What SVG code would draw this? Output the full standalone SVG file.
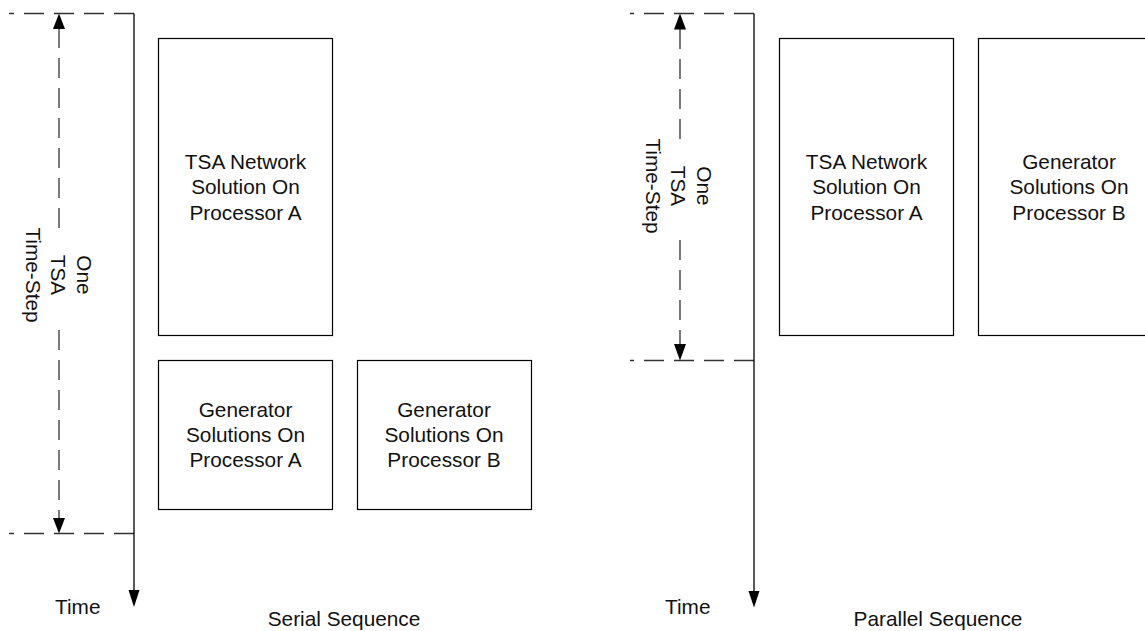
<svg xmlns="http://www.w3.org/2000/svg" width="1145" height="631" viewBox="0 0 1145 631">
  <defs>
    <style>
      text { font-family: "Liberation Sans", Arial, sans-serif; font-size: 20.8px; fill: #111; }
      .c { text-anchor: middle; }
      .box { fill: #fff; stroke: #000; stroke-width: 1.2; }
      .axis { fill: none; stroke: #000; stroke-width: 1.3; }
      .dash { fill: none; stroke: #333; stroke-width: 1.3; stroke-dasharray: 20 10; }
      .head { fill: #000; stroke: none; }
    </style>
  </defs>
  <rect width="1145" height="631" fill="#fff"/>

  <!-- Serial sequence: time axis and one time-step span -->
  <g id="serial-axis">
    <path class="dash" d="M134 13.5 H9"/>
    <path class="dash" d="M134 533.5 H9"/>
    <path class="axis" d="M134 13.5 V591"/>
    <path class="head" d="M128.5 590 L139.5 590 L134 607 Z"/>
    <path class="dash" d="M59 28 V228"/>
    <path class="dash" d="M59 330 V518"/>
    <path class="head" d="M59 13.5 L53 29 L65 29 Z"/>
    <path class="head" d="M59 533.5 L53 518 L65 518 Z"/>
    <text class="c" transform="translate(58.5 275) rotate(90)"><tspan x="0" y="-18">One</tspan><tspan x="0" y="7.5">TSA</tspan><tspan x="0" y="33">Time-Step</tspan></text>
    <text x="55" y="614">Time</text>
    <text class="c" x="344" y="626">Serial Sequence</text>
  </g>

  <g id="serial-network-a">
    <rect class="box" x="158.5" y="38.5" width="174" height="297"/>
    <text class="c" x="245.5" y="168.5">TSA Network</text>
    <text class="c" x="245.5" y="194">Solution On</text>
    <text class="c" x="245.5" y="219.5">Processor A</text>
  </g>

  <g id="serial-generator-a">
    <rect class="box" x="158.5" y="360.5" width="174" height="149"/>
    <text class="c" x="245.5" y="417">Generator</text>
    <text class="c" x="245.5" y="442">Solutions On</text>
    <text class="c" x="245.5" y="467">Processor A</text>
  </g>

  <g id="serial-generator-b">
    <rect class="box" x="357.5" y="360.5" width="174" height="149"/>
    <text class="c" x="444" y="417">Generator</text>
    <text class="c" x="444" y="442">Solutions On</text>
    <text class="c" x="444" y="467">Processor B</text>
  </g>

  <!-- Parallel sequence: time axis and one time-step span -->
  <g id="parallel-axis">
    <path class="dash" d="M754 13.5 H630"/>
    <path class="dash" d="M754 360.5 H630"/>
    <path class="axis" d="M754 13.5 V592"/>
    <path class="head" d="M748.5 591 L759.5 591 L754 607.5 Z"/>
    <path class="dash" d="M680 29 V139"/>
    <path class="dash" d="M680 240 V345"/>
    <path class="head" d="M680 13.5 L674 29.5 L686 29.5 Z"/>
    <path class="head" d="M680 360.5 L674 344 L686 344 Z"/>
    <text class="c" transform="translate(678.5 186) rotate(90)"><tspan x="0" y="-18">One</tspan><tspan x="0" y="7.5">TSA</tspan><tspan x="0" y="33">Time-Step</tspan></text>
    <text x="665" y="614">Time</text>
    <text class="c" x="938" y="626">Parallel Sequence</text>
  </g>

  <g id="parallel-network-a">
    <rect class="box" x="779.5" y="38.5" width="174" height="297"/>
    <text class="c" x="866.5" y="168.5">TSA Network</text>
    <text class="c" x="866.5" y="194">Solution On</text>
    <text class="c" x="866.5" y="219.5">Processor A</text>
  </g>

  <g id="parallel-generator-b">
    <rect class="box" x="978.5" y="38.5" width="182" height="297"/>
    <text class="c" x="1069" y="168.5">Generator</text>
    <text class="c" x="1069" y="194">Solutions On</text>
    <text class="c" x="1069" y="219.5">Processor B</text>
  </g>
</svg>
